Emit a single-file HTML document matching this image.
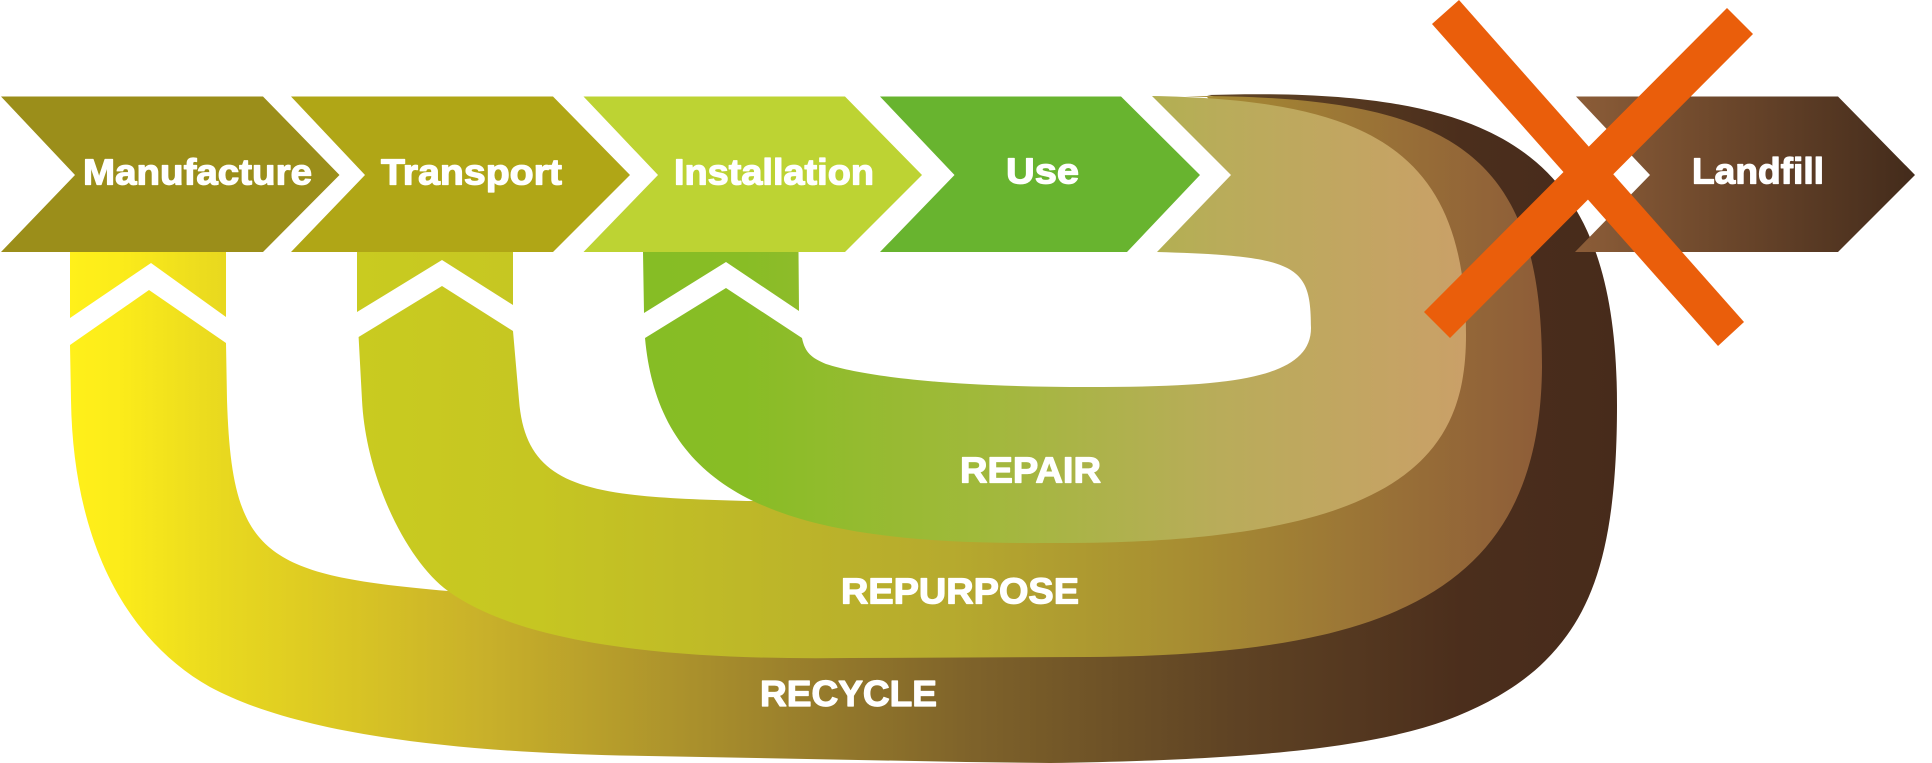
<!DOCTYPE html>
<html><head><meta charset="utf-8"><style>
html,body{margin:0;padding:0;background:#fff;width:1932px;height:763px;overflow:hidden}
svg{display:block}
text{font-family:"Liberation Sans",sans-serif;font-weight:bold;fill:#fff;stroke:#fff;stroke-width:1.2;stroke-linejoin:round}
</style></head><body>
<svg width="1932" height="763" viewBox="0 0 1932 763" xmlns="http://www.w3.org/2000/svg">
<defs>
<linearGradient id="gRec" gradientUnits="userSpaceOnUse" x1="70" y1="0" x2="1617" y2="0">
<stop offset="0" stop-color="#fff01a"/><stop offset=".03" stop-color="#fcec1a"/><stop offset=".1" stop-color="#e8d81f"/><stop offset=".27" stop-color="#c8b02a"/><stop offset=".42" stop-color="#a68c2c"/><stop offset=".58" stop-color="#7f632a"/><stop offset=".75" stop-color="#5f4324"/><stop offset=".9" stop-color="#4b2e1c"/><stop offset="1" stop-color="#472b1b"/>
</linearGradient>
<linearGradient id="gRep" gradientUnits="userSpaceOnUse" x1="358" y1="0" x2="1542" y2="0">
<stop offset="0" stop-color="#c9cb20"/><stop offset=".15" stop-color="#c6c622"/><stop offset=".5" stop-color="#b6aa2e"/><stop offset=".7" stop-color="#a78d32"/><stop offset=".88" stop-color="#986f37"/><stop offset="1" stop-color="#8e5d38"/>
</linearGradient>
<linearGradient id="gRpr" gradientUnits="userSpaceOnUse" x1="645" y1="0" x2="1467" y2="0">
<stop offset="0" stop-color="#86bd25"/><stop offset=".12" stop-color="#88bd25"/><stop offset=".4" stop-color="#a0b93a"/><stop offset=".7" stop-color="#b9ac5a"/><stop offset="1" stop-color="#caa068"/>
</linearGradient>
<linearGradient id="gLand" gradientUnits="userSpaceOnUse" x1="1575" y1="0" x2="1915" y2="0">
<stop offset="0" stop-color="#8c5d38"/><stop offset="1" stop-color="#432b1b"/>
</linearGradient>
</defs>

<!-- recycle -->
<polygon points="70,252 226,252 226,317 151,263 70,318" fill="url(#gRec)"/>
<path fill="url(#gRec)" d="M70 345 L149 290 L226 343 L227 400 C232 555 262 575 448 591 L500 600 L900 600 L1380 500 L1480 300 L1300 115 L1207 95 C1500 86 1617 150 1617 405 C1617 550 1592 614 1545 661 C1520 686 1485 706 1447 720 C1370 748 1250 760 1050 763 L966 762 L620 755.5 C430 751 290 730 210 687 C125 639 73 540 71 400 Z"/>

<!-- repurpose -->
<polygon points="357,252 513,252 513,305 442,260 357,312" fill="url(#gRep)"/>
<path fill="url(#gRep)" d="M358.6 337 L442 286 L513 331 L519 400 C526 490 590 497 747 501 L900 500 L1100 500 L1380 400 L1420 250 L1300 200 L1207 97 L1185 96 C1450 95 1542 150 1542 367 C1540 585 1400 655 1089 657 L850 658 C700 660 530 650 448 591 C408 562 366 480 362 400 Z"/>

<!-- repair -->
<polygon points="643,252 798.5,252 799,311 726,262 644,313" fill="url(#gRpr)"/>
<path fill="url(#gRpr)" d="M645 338 L726 288 L802 338 C805 353 812 358 826 364 C870 378 960 387 1089 387 C1225 387 1311 380 1311 328 C1311 265 1298 256 1157 252 L1231 175 L1152 96 C1370 100 1466 150 1466 335 C1466 450 1410 545 1050 543 C800 545 660 505 645 338 Z"/>

<!-- chevrons -->
<polygon points="1,96.5 263,96.5 339.5,175 263,252 1,252 75,175" fill="#9b8e1a"/>
<polygon points="291,96.5 553,96.5 630,175 553,252 291,252 365,175" fill="#b0a616"/>
<polygon points="583.5,96.5 845,96.5 922,175 845,252 583.5,252 658,175" fill="#bdd333"/>
<polygon points="880,96.5 1121,96.5 1200,175 1127,252 880,252 954.5,175" fill="#68b42f"/>
<polygon points="1576,96.5 1838,96.5 1915,175 1838,252 1575,252 1650,175" fill="url(#gLand)"/>

<!-- X -->
<polygon points="1459,0 1432,24 1718,346 1744,322" fill="#ea5e0b"/>
<polygon points="1727,8 1753,34 1450,338 1424,312" fill="#ea5e0b"/>

<!-- labels -->
<text x="83" y="184.5" font-size="36" textLength="229" lengthAdjust="spacingAndGlyphs">Manufacture</text>
<text x="381" y="184.5" font-size="36" textLength="181" lengthAdjust="spacingAndGlyphs">Transport</text>
<text x="674" y="184.5" font-size="36" textLength="200" lengthAdjust="spacingAndGlyphs">Installation</text>
<text x="1006" y="183.5" font-size="36" textLength="73" lengthAdjust="spacingAndGlyphs">Use</text>
<text x="1692" y="183.5" font-size="36" textLength="132" lengthAdjust="spacingAndGlyphs">Landfill</text>
<text x="960" y="482.5" font-size="36" textLength="141" lengthAdjust="spacingAndGlyphs">REPAIR</text>
<text x="841" y="603.5" font-size="36" textLength="238" lengthAdjust="spacingAndGlyphs">REPURPOSE</text>
<text x="760" y="706" font-size="36" textLength="177" lengthAdjust="spacingAndGlyphs">RECYCLE</text>
</svg>
</body></html>
